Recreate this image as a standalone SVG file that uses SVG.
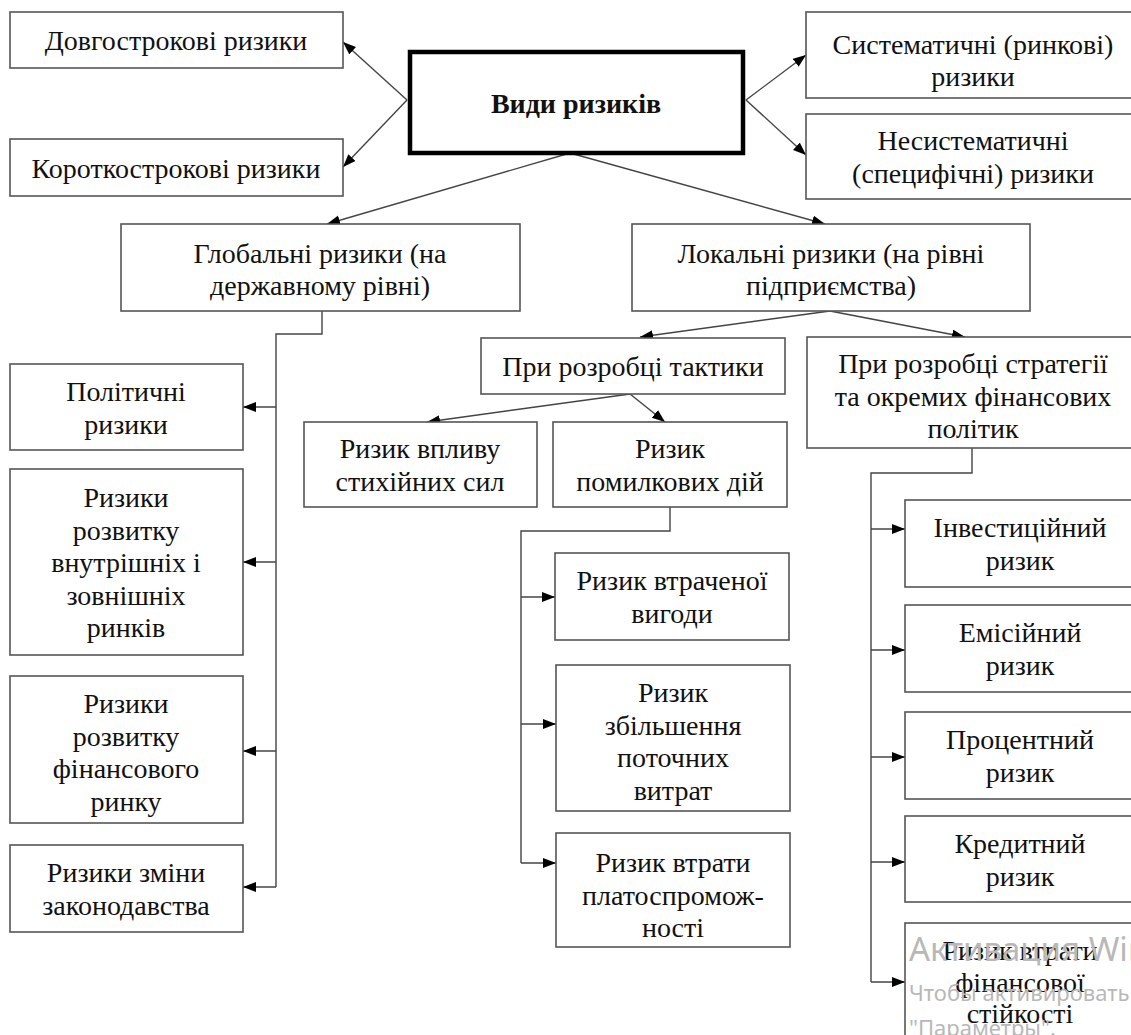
<svg xmlns="http://www.w3.org/2000/svg" width="1131" height="1035" viewBox="0 0 1131 1035">
<defs>
<marker id="ah" markerUnits="userSpaceOnUse" markerWidth="14" markerHeight="12" refX="13" refY="5" orient="auto">
<path d="M0,0 L13,5 L0,10 z" fill="#000"/>
</marker>
<style>
.box{fill:#fff;stroke:#555;stroke-width:1.6}
.main{fill:#fff;stroke:#000;stroke-width:4.5}
.t{font-family:"Liberation Serif","Times New Roman",serif;font-size:28px;fill:#111;text-anchor:middle}
.b{font-weight:bold}
.c{fill:none;stroke:#444;stroke-width:1.4}
.a{marker-end:url(#ah)}
.wm{font-family:"Noto Sans","Open Sans",sans-serif;fill:#b8b8b8}
</style>
</defs>
<rect width="1131" height="1035" fill="#fff"/>

<g id="connectors">
<line class="c a" x1="407" y1="100" x2="343" y2="42"/>
<line class="c a" x1="407" y1="100" x2="343" y2="167"/>
<line class="c a" x1="746" y1="100" x2="806" y2="55"/>
<line class="c a" x1="746" y1="100" x2="806" y2="155"/>
<line class="c a" x1="570" y1="153" x2="327" y2="224"/>
<line class="c a" x1="570" y1="153" x2="825" y2="224"/>
<polyline class="c" points="322,311 322,334 276,334 276,887"/>
<line class="c a" x1="276" y1="407" x2="243" y2="407"/>
<line class="c a" x1="276" y1="562" x2="243" y2="562"/>
<line class="c a" x1="276" y1="751" x2="243" y2="751"/>
<line class="c a" x1="276" y1="887" x2="243" y2="887"/>
<line class="c a" x1="830" y1="311" x2="640" y2="337"/>
<line class="c a" x1="830" y1="311" x2="965" y2="337"/>
<line class="c a" x1="630" y1="394" x2="427" y2="422"/>
<line class="c a" x1="630" y1="394" x2="665" y2="422"/>
<polyline class="c" points="670,507 670,531 521,531 521,863"/>
<line class="c a" x1="521" y1="597" x2="555" y2="597"/>
<line class="c a" x1="521" y1="724" x2="556" y2="724"/>
<line class="c a" x1="521" y1="863" x2="556" y2="863"/>
<polyline class="c" points="972,448 972,473 871,473 871,982"/>
<line class="c a" x1="871" y1="529" x2="905" y2="529"/>
<line class="c a" x1="871" y1="650" x2="905" y2="650"/>
<line class="c a" x1="871" y1="757" x2="905" y2="757"/>
<line class="c a" x1="871" y1="862" x2="905" y2="862"/>
<line class="c a" x1="871" y1="982" x2="905" y2="982"/>
</g>

<g id="n-dovho"><rect class="box" x="10" y="12" width="333" height="56"/><text class="t" x="176" y="50">Довгострокові ризики</text></g>
<g id="n-korot"><rect class="box" x="10" y="139" width="333" height="57"/><text class="t" x="176" y="178">Короткострокові ризики</text></g>
<g id="n-main"><rect class="main" x="410" y="52" width="333" height="101"/><text class="t b" x="576" y="113">Види ризиків</text></g>
<g id="n-system"><rect class="box" x="806" y="12" width="334" height="86"/><text class="t" x="973" y="54">Систематичні (ринкові)</text><text class="t" x="973" y="86">ризики</text></g>
<g id="n-nesystem"><rect class="box" x="806" y="114" width="334" height="85"/><text class="t" x="973" y="150">Несистематичні</text><text class="t" x="973" y="183">(специфічні) ризики</text></g>
<g id="n-global"><rect class="box" x="121" y="224" width="399" height="87"/><text class="t" x="320" y="263">Глобальні ризики (на</text><text class="t" x="320" y="295">державному рівні)</text></g>
<g id="n-local"><rect class="box" x="632" y="224" width="398" height="87"/><text class="t" x="831" y="263">Локальні ризики (на рівні</text><text class="t" x="831" y="295">підприємства)</text></g>
<g id="n-taktyka"><rect class="box" x="481" y="338" width="304" height="56"/><text class="t" x="633" y="376">При розробці тактики</text></g>
<g id="n-stratehiia"><rect class="box" x="807" y="337" width="333" height="111"/><text class="t" x="973" y="373">При розробці стратегії</text><text class="t" x="973" y="406">та окремих фінансових</text><text class="t" x="973" y="438">політик</text></g>
<g id="n-vplyv"><rect class="box" x="304" y="422" width="233" height="85"/><text class="t" x="420" y="458">Ризик впливу</text><text class="t" x="420" y="491">стихійних сил</text></g>
<g id="n-pomylkovi"><rect class="box" x="553" y="422" width="234" height="85"/><text class="t" x="670" y="458">Ризик</text><text class="t" x="670" y="491">помилкових дій</text></g>
<g id="n-politychni"><rect class="box" x="10" y="364" width="233" height="86"/><text class="t" x="126" y="401">Політичні</text><text class="t" x="126" y="434">ризики</text></g>
<g id="n-rynky"><rect class="box" x="10" y="469" width="233" height="186"/><text class="t" x="126" y="507">Ризики</text><text class="t" x="126" y="540">розвитку</text><text class="t" x="126" y="572">внутрішніх і</text><text class="t" x="126" y="605">зовнішніх</text><text class="t" x="126" y="637">ринків</text></g>
<g id="n-finrynok"><rect class="box" x="10" y="676" width="233" height="147"/><text class="t" x="126" y="713">Ризики</text><text class="t" x="126" y="746">розвитку</text><text class="t" x="126" y="778">фінансового</text><text class="t" x="126" y="811">ринку</text></g>
<g id="n-zakon"><rect class="box" x="10" y="845" width="233" height="87"/><text class="t" x="126" y="882">Ризики зміни</text><text class="t" x="126" y="915">законодавства</text></g>
<g id="n-vyhoda"><rect class="box" x="555" y="553" width="234" height="87"/><text class="t" x="672" y="590">Ризик втраченої</text><text class="t" x="672" y="623">вигоди</text></g>
<g id="n-vytraty"><rect class="box" x="556" y="665" width="234" height="146"/><text class="t" x="673" y="702">Ризик</text><text class="t" x="673" y="735">збільшення</text><text class="t" x="673" y="767">поточних</text><text class="t" x="673" y="800">витрат</text></g>
<g id="n-platos"><rect class="box" x="556" y="833" width="234" height="114"/><text class="t" x="673" y="872">Ризик втрати</text><text class="t" x="673" y="905">платоспромож-</text><text class="t" x="673" y="937">ності</text></g>
<g id="n-invest"><rect class="box" x="905" y="500" width="235" height="87"/><text class="t" x="1020" y="537">Інвестиційний</text><text class="t" x="1020" y="570">ризик</text></g>
<g id="n-emis"><rect class="box" x="905" y="605" width="235" height="87"/><text class="t" x="1020" y="642">Емісійний</text><text class="t" x="1020" y="675">ризик</text></g>
<g id="n-prots"><rect class="box" x="905" y="712" width="235" height="87"/><text class="t" x="1020" y="749">Процентний</text><text class="t" x="1020" y="782">ризик</text></g>
<g id="n-kred"><rect class="box" x="905" y="816" width="235" height="86"/><text class="t" x="1020" y="853">Кредитний</text><text class="t" x="1020" y="886">ризик</text></g>
<g id="n-stiikist"><rect class="box" x="905" y="923" width="235" height="130"/><text class="t" x="1020" y="960">Ризик втрати</text><text class="t" x="1020" y="992">фінансової</text><text class="t" x="1020" y="1023">стійкості</text></g>

<g id="watermark">
<text class="wm" x="909" y="961" font-size="33">Активация Windows</text>
<text class="wm" x="909" y="1001" font-size="22">Чтобы активировать Windows, перейдите в раздел</text>
<text class="wm" x="909" y="1036" font-size="22">"Параметры".</text>
</g>
</svg>
